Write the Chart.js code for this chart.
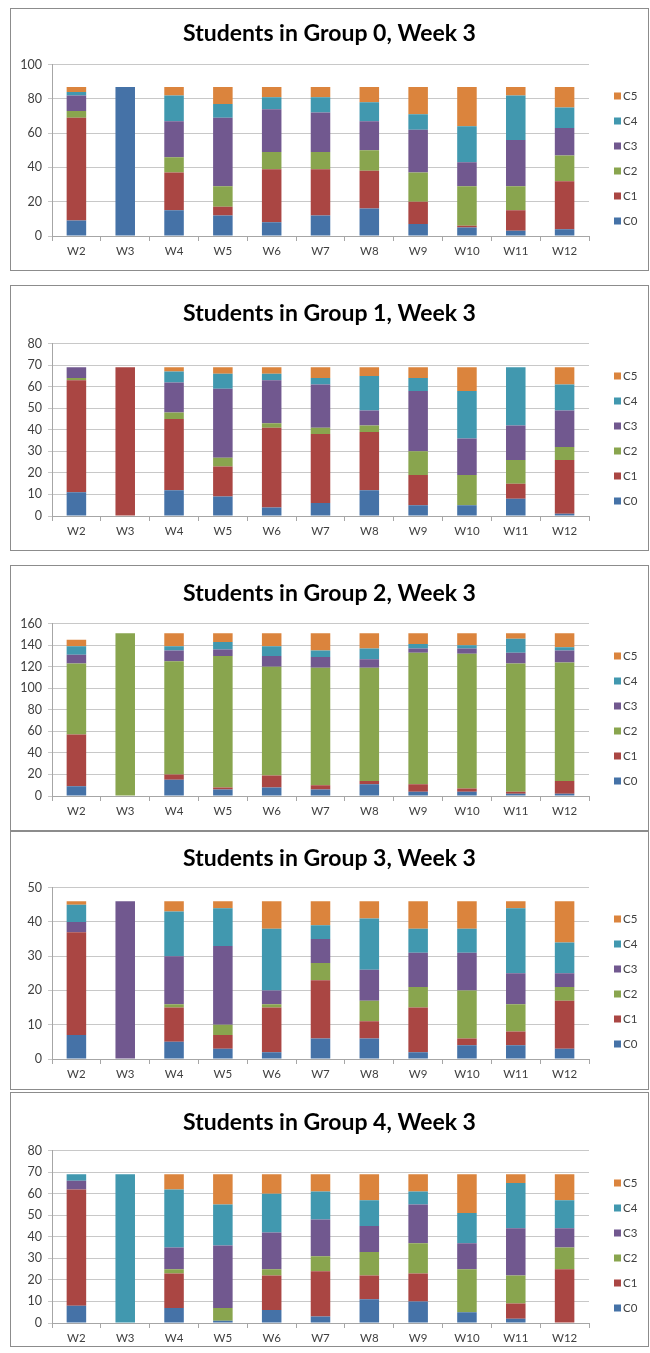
<!DOCTYPE html>
<html>
<head>
<meta charset="utf-8">
<script src="https://cdn.jsdelivr.net/npm/chart.js@4/dist/chart.umd.min.js"></script>
<style>
  html, body { margin: 0; padding: 0; background: #fff; }
  body { width: 650px; height: 1353px; position: relative; overflow: hidden; }
  .panel { position: absolute; left: 10px; width: 639px; box-sizing: border-box; border: 1px solid #8c8c8c; background: #fff; }
  .panel canvas { display: block; }
</style>
</head>
<body>
<script>
// ---------- DATA ----------
const categories = ['W2','W3','W4','W5','W6','W7','W8','W9','W10','W11','W12'];
const seriesNames = ['C0','C1','C2','C3','C4','C5'];
const titles = [
  'Students in Group 0, Week 3',
  'Students in Group 1, Week 3',
  'Students in Group 2, Week 3',
  'Students in Group 3, Week 3',
  'Students in Group 4, Week 3'
];
const yMax = [100, 80, 160, 50, 80];
const yStep = [20, 10, 20, 10, 10];

// Group 0
const g0c0 = [9, 87, 15, 12, 8, 12, 16, 7, 5, 3, 4];
const g0c1 = [60, 0, 22, 5, 31, 27, 22, 13, 1, 12, 28];
const g0c2 = [4, 0, 9, 12, 10, 10, 12, 17, 23, 14, 15];
const g0c3 = [9, 0, 21, 40, 25, 23, 17, 25, 14, 27, 16];
const g0c4 = [2, 0, 15, 8, 7, 9, 11, 9, 21, 26, 12];
const g0c5 = [3, 0, 5, 10, 6, 6, 9, 16, 23, 5, 12];
// Group 1
const g1c0 = [11, 0, 12, 9, 4, 6, 12, 5, 5, 8, 1];
const g1c1 = [52, 69, 33, 14, 37, 32, 27, 14, 0, 7, 25];
const g1c2 = [1, 0, 3, 4, 2, 3, 3, 11, 14, 11, 6];
const g1c3 = [5, 0, 14, 32, 20, 20, 7, 28, 17, 16, 17];
const g1c4 = [0, 0, 5, 7, 3, 3, 16, 6, 22, 27, 12];
const g1c5 = [0, 0, 2, 3, 3, 5, 4, 5, 11, 0, 8];
// Group 2
const g2c0 = [9, 0, 15, 6, 8, 6, 11, 4, 4, 2, 2];
const g2c1 = [48, 0, 5, 2, 11, 4, 3, 7, 3, 2, 12];
const g2c2 = [66, 151, 105, 122, 101, 109, 105, 122, 125, 119, 110];
const g2c3 = [8, 0, 10, 6, 10, 10, 8, 4, 5, 10, 11];
const g2c4 = [8, 0, 4, 7, 9, 6, 10, 4, 3, 13, 3];
const g2c5 = [6, 0, 12, 8, 12, 16, 14, 10, 11, 5, 13];
// Group 3
const g3c0 = [7, 0, 5, 3, 2, 6, 6, 2, 4, 4, 3];
const g3c1 = [30, 0, 10, 4, 13, 17, 5, 13, 2, 4, 14];
const g3c2 = [0, 0, 1, 3, 1, 5, 6, 6, 14, 8, 4];
const g3c3 = [3, 46, 14, 23, 4, 7, 9, 10, 11, 9, 4];
const g3c4 = [5, 0, 13, 11, 18, 4, 15, 7, 7, 19, 9];
const g3c5 = [1, 0, 3, 2, 8, 7, 5, 8, 8, 2, 12];
// Group 4
const g4c0 = [8, 0, 7, 1, 6, 3, 11, 10, 5, 2, 0];
const g4c1 = [54, 0, 16, 0, 16, 21, 11, 13, 0, 7, 25];
const g4c2 = [0, 0, 2, 6, 3, 7, 11, 14, 20, 13, 10];
const g4c3 = [4, 0, 10, 29, 17, 17, 12, 18, 12, 22, 9];
const g4c4 = [3, 69, 27, 19, 18, 13, 12, 6, 14, 21, 13];
const g4c5 = [0, 0, 7, 14, 9, 8, 12, 8, 18, 4, 12];

const groupSeries = [
  [g0c0, g0c1, g0c2, g0c3, g0c4, g0c5],
  [g1c0, g1c1, g1c2, g1c3, g1c4, g1c5],
  [g2c0, g2c1, g2c2, g2c3, g2c4, g2c5],
  [g3c0, g3c1, g3c2, g3c3, g3c4, g3c5],
  [g4c0, g4c1, g4c2, g4c3, g4c4, g4c5]
];

// ---------- STYLE / LAYOUT ----------
const colors = ['#4572A7', '#AA4643', '#89A54E', '#71588F', '#4198AF', '#DB843D'];
// panel box top/height, title centre, plot top, plot bottom (page px)
const panelLayout = [
  { top: 8,    h: 263, titleY: 34,   pt: 65,   pb: 236 },
  { top: 285,  h: 266, titleY: 314,  pt: 344,  pb: 516 },
  { top: 565,  h: 266, titleY: 594,  pt: 624,  pb: 796 },
  { top: 831,  h: 259, titleY: 859,  pt: 888,  pb: 1059 },
  { top: 1092, h: 255, titleY: 1123, pt: 1151, pb: 1323 }
];
const FONT = 'Lato, "Open Sans", "DejaVu Sans", sans-serif';
const PLOT_LEFT = 41;   // relative to canvas inner left
const RIGHT_W = 59;     // space right of the plot, for the legend
const XAXIS_H = 22;
const TITLE_SIZE = 23;
const TITLE_LH = Math.round(TITLE_SIZE * 1.2);

const legendPlugin = {
  id: 'sideLegend',
  afterDraw(chart) {
    const ctx = chart.ctx;
    const ca = chart.chartArea;
    ctx.save();
    ctx.font = '11.5px ' + FONT;
    ctx.textBaseline = 'middle';
    ctx.textAlign = 'left';
    chart.data.datasets.forEach((ds, i) => {
      const y = ca.bottom - 15 - i * 25;
      const x = ca.right + 25;
      ctx.fillStyle = ds.backgroundColor;
      ctx.fillRect(x, y - 3.5, 7, 7);
      ctx.fillStyle = '#404040';
      ctx.fillText(ds.label, x + 9, y + 0.5);
    });
    ctx.restore();
  }
};

panelLayout.forEach((L, gi) => {
  const div = document.createElement('div');
  div.className = 'panel';
  div.style.top = L.top + 'px';
  div.style.height = L.h + 'px';
  const cv = document.createElement('canvas');
  const W = 637, H = L.h - 2;
  cv.width = W; cv.height = H;
  cv.style.width = W + 'px'; cv.style.height = H + 'px';
  div.appendChild(cv);
  document.body.appendChild(div);

  const innerTop = L.top + 1;
  const tPadTop = (L.titleY - innerTop) - TITLE_LH / 2;
  const tPadBot = (L.pt - innerTop) - (tPadTop + TITLE_LH);
  const padBottom = H - (L.pb - innerTop) - XAXIS_H;

  new Chart(cv, {
    type: 'bar',
    data: {
      labels: categories,
      datasets: seriesNames.map((name, si) => ({
        label: name,
        data: groupSeries[gi][si],
        backgroundColor: colors[si],
        borderWidth: 0,
        categoryPercentage: 1,
        barPercentage: 0.4
      }))
    },
    options: {
      responsive: false,
      animation: false,
      devicePixelRatio: 1,
      layout: { padding: { left: 0, right: 0, top: 0, bottom: padBottom } },
      plugins: {
        legend: { display: false },
        tooltip: { enabled: false },
        title: {
          display: true,
          text: titles[gi],
          color: '#000',
          font: { family: FONT, size: TITLE_SIZE, weight: 'bold', lineHeight: 1.2 },
          padding: { top: tPadTop, bottom: tPadBot }
        }
      },
      scales: {
        x: {
          stacked: true,
          afterFit: (s) => { s.height = XAXIS_H; },
          grid: { display: true, offset: true, drawOnChartArea: false, drawTicks: true, tickLength: 5, color: '#a6a6a6' },
          border: { display: true, color: '#a6a6a6' },
          ticks: { color: '#404040', font: { family: FONT, size: 11.5 }, padding: 3, maxRotation: 0, autoSkip: false }
        },
        y: {
          stacked: true,
          min: 0,
          max: yMax[gi],
          afterFit: (s) => { s.width = PLOT_LEFT; },
          grid: { color: '#c8c8c8', tickLength: 4 },
          border: { display: true, color: '#a6a6a6' },
          ticks: { stepSize: yStep[gi], color: '#404040', font: { family: FONT, size: 12.5 }, padding: 6 }
        },
        legendSpace: {
          type: 'linear',
          position: 'right',
          display: true,
          min: 0,
          max: 1,
          afterFit: (s) => { s.width = RIGHT_W; },
          grid: { display: false, drawOnChartArea: false },
          border: { display: false },
          ticks: { display: false }
        }
      }
    },
    plugins: [legendPlugin]
  });
});
</script>
</body>
</html>
